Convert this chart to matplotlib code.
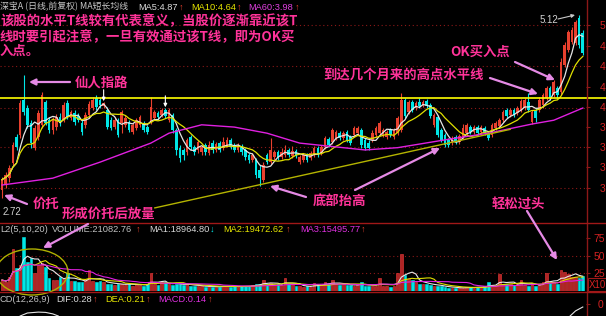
import numpy as np
import pandas as pd
import matplotlib
matplotlib.use("Agg")
import matplotlib.pyplot as plt
from matplotlib.patches import Ellipse, Rectangle

# ---------------- data (prices in cents, volume in thousands of lots) ----------------
OPEN = [283, 289, 298, 318, 352, 355, 400, 390, 370, 338,
        352, 368, 398, 374, 361, 365, 378, 374, 397, 377,
        383, 379, 370, 368, 381, 390, 403, 400, 393, 387,
        374, 365, 374, 370, 368, 372, 359, 364, 368, 370,
        365, 372, 377, 383, 381, 387, 374, 381, 361, 338,
        335, 332, 352, 339, 335, 332, 341, 331, 344, 335,
        344, 338, 341, 348, 341, 335, 340, 335, 328, 322,
        322, 309, 296, 328, 319, 326, 332, 326, 328, 335,
        327, 334, 319, 322, 328, 324, 328, 338, 331, 339,
        349, 345, 351, 357, 351, 359, 352, 355, 357, 361,
        348, 344, 348, 355, 357, 355, 352, 361, 352, 357,
        361, 400, 385, 398, 390, 398, 394, 399, 394, 368,
        378, 361, 355, 348, 344, 352, 345, 352, 357, 365,
        359, 365, 359, 364, 357, 355, 364, 366, 374, 387,
        381, 387, 383, 387, 390, 398, 372, 387, 387, 394,
        403, 416, 407, 416, 411, 446, 466, 477, 475, 508,
        488]
CLOSE = [296, 302, 311, 341, 339, 397, 385, 368, 344, 364,
         383, 407, 370, 361, 374, 378, 370, 394, 378, 385,
         372, 374, 359, 381, 395, 400, 391, 394, 397, 365,
         364, 374, 355, 385, 377, 361, 368, 374, 378, 361,
         359, 391, 385, 378, 387, 379, 387, 361, 335, 324,
         328, 348, 339, 332, 345, 339, 332, 341, 335, 343,
         335, 345, 348, 339, 335, 341, 332, 326, 322, 328,
         302, 298, 315, 319, 335, 332, 326, 332, 335, 328,
         334, 327, 326, 328, 322, 331, 338, 328, 339, 351,
         341, 361, 359, 351, 357, 348, 344, 364, 364, 341,
         338, 338, 357, 364, 370, 361, 359, 355, 361, 377,
         400, 379, 398, 387, 397, 393, 398, 393, 379, 381,
         355, 348, 341, 341, 351, 345, 353, 364, 368, 359,
         365, 357, 365, 357, 351, 368, 370, 374, 385, 379,
         387, 381, 390, 399, 400, 387, 385, 377, 400, 407,
         416, 403, 424, 407, 450, 473, 490, 492, 503, 473,
         462]
HIGH = [300, 306, 315, 345, 356, 400, 433, 394, 374, 368,
        387, 411, 400, 378, 378, 382, 383, 398, 400, 387,
        387, 383, 374, 385, 399, 404, 407, 404, 398, 391,
        378, 378, 377, 387, 381, 374, 370, 377, 381, 373,
        368, 404, 387, 386, 390, 390, 390, 383, 364, 341,
        338, 351, 355, 341, 348, 341, 344, 347, 348, 345,
        347, 352, 352, 351, 344, 344, 343, 338, 331, 331,
        324, 315, 319, 331, 351, 335, 335, 338, 341, 338,
        340, 336, 328, 331, 331, 334, 340, 340, 341, 353,
        352, 364, 361, 360, 360, 361, 355, 366, 366, 364,
        351, 348, 361, 366, 373, 364, 361, 364, 364, 379,
        410, 403, 400, 400, 399, 403, 400, 402, 397, 383,
        381, 364, 357, 351, 353, 355, 356, 369, 370, 368,
        368, 368, 368, 366, 360, 370, 373, 377, 387, 390,
        390, 390, 393, 402, 403, 410, 387, 390, 404, 410,
        419, 419, 427, 419, 456, 477, 492, 496, 505, 512,
        492]
LOW = [272, 285, 293, 314, 335, 351, 381, 364, 338, 335,
       348, 364, 368, 357, 356, 361, 366, 372, 376, 374,
       368, 372, 355, 364, 377, 387, 387, 390, 390, 362,
       361, 362, 352, 357, 365, 359, 356, 361, 365, 359,
       356, 369, 374, 376, 378, 377, 372, 357, 328, 319,
       322, 328, 335, 328, 331, 328, 328, 328, 331, 332,
       332, 335, 339, 336, 332, 332, 328, 322, 318, 319,
       298, 288, 293, 317, 317, 322, 322, 323, 326, 326,
       324, 324, 317, 319, 319, 322, 326, 326, 328, 336,
       339, 343, 348, 348, 348, 345, 341, 352, 355, 338,
       335, 335, 345, 352, 355, 352, 349, 352, 349, 355,
       359, 377, 382, 385, 387, 390, 391, 390, 377, 365,
       352, 345, 339, 339, 341, 343, 343, 349, 355, 356,
       356, 355, 356, 355, 348, 352, 361, 364, 372, 377,
       378, 378, 381, 385, 387, 385, 369, 372, 385, 390,
       400, 400, 404, 403, 407, 444, 463, 474, 473, 469,
       460]
VOLUME = [15, 12, 19, 60, 32, 36, 76, 41, 47, 25,
          36, 40, 34, 18, 15, 15, 19, 17, 25, 13,
          14, 12, 12, 16, 29, 14, 12, 13, 12, 10,
          9, 8, 10, 9, 8, 10, 7, 9, 8, 7,
          9, 25, 10, 8, 12, 12, 9, 8, 10, 9,
          8, 9, 7, 6, 7, 6, 5, 6, 5, 6,
          5, 7, 6, 5, 6, 5, 6, 7, 6, 8,
          9, 10, 15, 9, 11, 8, 9, 8, 18, 10,
          8, 7, 6, 5, 6, 5, 11, 8, 8, 12,
          9, 15, 9, 8, 9, 8, 8, 7, 8, 12,
          7, 6, 6, 7, 18, 7, 6, 5, 7, 25,
          52, 22, 17, 15, 12, 10, 9, 10, 8, 7,
          6, 6, 5, 4, 4, 4, 3, 4, 5, 5,
          4, 5, 5, 6, 12, 8, 7, 23, 10, 9,
          10, 8, 9, 15, 8, 7, 9, 7, 8, 12,
          25, 11, 12, 10, 29, 27, 23, 20, 20, 18,
          21]
MA60_IDX = [0, 14, 27, 41, 46, 55, 64, 73, 82, 94, 100, 109, 123, 134, 146, 152, 160]
MA60_VAL = [289, 298, 319, 344, 357, 368, 365, 357, 344, 338, 335, 338, 349, 357, 369, 374, 390]
T_LINE = 4.03                      # horizontal "T" line
TREND_IDX = [42.1, 140.0]          # rising bottom line
TREND_VAL = [2.59, 3.62]
MARK_IDX = [28, 45]                # small white markers above highs
PRICE_TICKS = [4.99, 4.71, 4.45, 4.18, 3.91, 3.65, 3.39, 3.13, 2.85]
PRICE_TICK_LABELS = ['5', '4', '4', '4', '4', '3', '3', '3', '3']
PRICE_GRID = [4.99, 4.45, 3.90, 3.39, 2.85]
VOL_TICKS = [75, 50, 25]
VOL_TICK_LABELS = ['75', '50', '25']
VOL_GRID = [50, 25]
MACD_L_IDX = [5, 7, 10, 12, 14, 15.5]
MACD_L_VAL = [-0.02, 0.08, 0.11, 0.10, 0.05, -0.02]
MACD_R_IDX = [156.5, 158, 160]
MACD_R_VAL = [-0.02, 0.15, 0.28]

# ---------------- setup ----------------
plt.rcParams['font.family'] = ['Liberation Sans', 'Noto Sans CJK SC', 'DejaVu Sans']
CJK = ['Noto Sans CJK SC', 'DejaVu Sans']
W, H = 606, 316
AXR = 586
RED = '#E8402E'
CYAN = '#00E6E6'
DARKRED = '#8C1818'
TICKRED = '#D42222'
PINK = '#FF3399'
ARROW = '#E58AE5'

fig = plt.figure(figsize=(W / 100, H / 100), dpi=100, facecolor='black')


def fbox(x0, y0, x1, y1):
    return [x0 / W, 1 - y1 / H, (x1 - x0) / W, (y1 - y0) / H]


o = np.array(OPEN) / 100
c = np.array(CLOSE) / 100
h = np.array(HIGH) / 100
lo = np.array(LOW) / 100
vol = np.array(VOLUME, dtype=float)
n = len(c)
x = np.arange(n)
XLIM = (-0.551, 160.88)
up = c >= o
cols = np.where(up, RED, CYAN)

# ---------------- price panel ----------------
ax_p = fig.add_axes(fbox(0, 0, AXR, 222))
ax_p.set_facecolor('black')
ax_p.set_xlim(*XLIM)
ax_p.set_ylim(2.405, 5.317)
for v in PRICE_GRID:
    ax_p.axhline(v, color=DARKRED, lw=0.8, ls=(0, (1, 2.5)), zorder=1)
ax_p.vlines(x, lo, h, colors=cols, lw=0.8, zorder=2)
ax_p.bar(x, np.maximum(np.abs(c - o), 0.008), bottom=np.minimum(o, c), width=0.72,
         color=cols, lw=0, zorder=3)
ma5 = pd.Series(c).rolling(5, min_periods=1).mean()
ma10 = pd.Series(c).rolling(10, min_periods=1).mean()
ax_p.plot(x, ma5, color='#E6E6E6', lw=0.9, zorder=4)
ax_p.plot(x, ma10, color='#E0E000', lw=0.9, zorder=4)
ax_p.plot(MA60_IDX, np.array(MA60_VAL) / 100, color='#E020E0', lw=1.0, zorder=4)
ax_p.axhline(T_LINE, xmin=0, xmax=W / AXR, color='#FFFF00', lw=1.2, zorder=5, clip_on=False)
ax_p.plot(TREND_IDX, TREND_VAL, color='#B4B400', lw=1.0, zorder=5)
for i in MARK_IDX:
    ax_p.annotate('', xy=(i, h[i] + 0.01), xytext=(i, h[i] + 0.16),
                  arrowprops=dict(arrowstyle='-|>', color='white', lw=0.8,
                                  mutation_scale=5, shrinkA=0, shrinkB=0), zorder=6)
ax_p.set_xticks([])
ax_p.yaxis.tick_right()
ax_p.set_yticks(PRICE_TICKS)
ax_p.set_yticklabels(PRICE_TICK_LABELS)
ax_p.tick_params(axis='y', colors=DARKRED, labelcolor=TICKRED, length=2.9, width=0.8,
                 pad=7.2, labelsize=7.5)
for s in ax_p.spines.values():
    s.set_visible(False)

# ---------------- volume panel ----------------
ax_v = fig.add_axes(fbox(0, 223, AXR, 290.5))
ax_v.set_facecolor('black')
ax_v.set_xlim(*XLIM)
ax_v.set_ylim(0, 96.43)
for v in VOL_GRID:
    ax_v.axhline(v, color=DARKRED, lw=0.8, ls=(0, (1, 2.5)), zorder=1)
vface = np.where(up, '#B02424', CYAN)
vedge = np.where(up, '#F03C3C', CYAN)
ax_v.bar(x, vol, width=0.72, color=vface, edgecolor=vedge, lw=0.4, zorder=2)
vs = pd.Series(vol)
ax_v.plot(x, vs.rolling(5, min_periods=1).mean(), color='#E6E6E6', lw=0.8, zorder=3)
ax_v.plot(x, vs.rolling(10, min_periods=1).mean(), color='#E0E000', lw=0.8, zorder=3)
ax_v.plot(x, vs.rolling(20, min_periods=1).mean(), color='#E020E0', lw=0.8, zorder=3)
ax_v.set_xticks([])
ax_v.yaxis.tick_right()
ax_v.set_yticks(VOL_TICKS)
ax_v.set_yticklabels(VOL_TICK_LABELS)
ax_v.tick_params(axis='y', colors=DARKRED, labelcolor=TICKRED, length=2.9, width=0.8,
                 pad=2.2, labelsize=7.5)
for s in ax_v.spines.values():
    s.set_visible(False)

# ---------------- MACD panel ----------------
ax_m = fig.add_axes(fbox(0, 292, AXR, 316))
ax_m.set_facecolor('black')
ax_m.set_xlim(*XLIM)
ax_m.set_ylim(-0.02, 0.78)
ax_m.plot(MACD_L_IDX, MACD_L_VAL, color='#E6E6E6', lw=0.8)
ax_m.plot(MACD_R_IDX, MACD_R_VAL, color='#E6E6E6', lw=0.8)
ax_m.set_xticks([])
ax_m.yaxis.tick_right()
ax_m.set_yticks([0.38])
ax_m.set_yticklabels(['0'])
ax_m.tick_params(axis='y', colors=DARKRED, labelcolor=TICKRED, length=2.9, width=0.8,
                 pad=5.8, labelsize=7.5)
for s in ax_m.spines.values():
    s.set_visible(False)

# ---------------- overlay (pixel coordinates) ----------------
ov = fig.add_axes([0, 0, 1, 1])
ov.set_xlim(0, W)
ov.set_ylim(H, 0)
ov.axis('off')
ov.patch.set_alpha(0)

ov.axvline(AXR + 0.5, color=DARKRED, lw=1.0)
ov.axhline(222.5, color='#A01818', lw=1.0)
ov.axhline(291.5, color='#A01818', lw=1.0)
ov.add_patch(Rectangle((587.5, 278), 19, 13, fill=False, edgecolor='#A01818', lw=0.8))
ov.text(589, 285, 'X10', color=TICKRED, fontsize=7, va='center', ha='left')


def txt(px, py, s, color, size=6.7, family=None, weight='normal'):
    kw = {}
    if family:
        kw['family'] = family
    ov.text(px, py, s, color=color, fontsize=size, va='center', ha='left',
            fontweight=weight, **kw)


def arrow(x0, y0, x1, y1, color=ARROW, lw=1.6, ms=9):
    ov.annotate('', xy=(x1, y1), xytext=(x0, y0),
                arrowprops=dict(arrowstyle='-|>', color=color, lw=lw,
                                mutation_scale=ms, shrinkA=0, shrinkB=0))


# title row
txt(0, 7, '深宝A (日线,前复权) MA短长均线', '#C8C8C8', size=6.4, family=CJK)
txt(138, 7, 'MA5:4.87', '#DCDCDC')
txt(179, 7, '↑', RED)
txt(191, 7, 'MA10:4.64', '#E6E600')
txt(237, 7, '↑', RED)
txt(248, 7, 'MA60:3.98', '#E040E0')
txt(295, 7, '↑', RED)

# volume title
txt(0, 229, 'L2(5,10,20)', '#C0C0C0')
txt(52, 229, 'VOLUME:21082.76', '#C0C0C0')
txt(136, 229, '↑', RED)
txt(149, 229, 'MA1:18964.80', '#D8D8D8')
txt(210, 229, '↓', CYAN)
txt(223, 229, 'MA2:19472.62', '#E6E600')
txt(286, 229, '↑', RED)
txt(300, 229, 'MA3:15495.77', '#E030E0')
txt(361, 229, '↑', RED)

# MACD title
txt(0, 299, 'CD(12,26,9)', '#C0C0C0')
txt(56, 299, 'DIF:0.28', '#D8D8D8')
txt(93, 299, '↑', RED)
txt(105, 299, 'DEA:0.21', '#E6E600')
txt(146, 299, '↑', RED)
txt(158, 299, 'MACD:0.14', '#E030E0')
txt(208, 299, '↑', RED)

# high / low labels
txt(540, 20, '5.12', '#D0D0D0', size=7)
arrow(558, 19, 575, 15, color='#C8C8C8', lw=0.8, ms=5)
txt(3, 212, '2.72', '#D0D0D0', size=7)

# commentary
FS = 9.6
txt(0, 21, '该股的水平T线较有代表意义，当股价逐渐靠近该T', PINK, FS, CJK, 'bold')
txt(0, 37, '线时要引起注意，一旦有效通过该T线，即为OK买', PINK, FS, CJK, 'bold')
txt(0, 51, '入点。', PINK, FS, CJK, 'bold')
txt(75, 83, '仙人指路', PINK, FS, CJK, 'bold')
arrow(70, 82, 29, 82)
txt(33, 204, '价托', PINK, FS, CJK, 'bold')
arrow(27, 204, 4, 195)
txt(62, 214, '形成价托后放量', PINK, FS, CJK, 'bold')
arrow(88, 224, 43, 248)
txt(313, 201, '底部抬高', PINK, FS, CJK, 'bold')
arrow(306, 197, 270, 186)
arrow(355, 190, 440, 148)
txt(323, 75, '到达几个月来的高点水平线', PINK, FS, CJK, 'bold')
arrow(490, 78, 538, 94)
txt(450, 52, 'OK买入点', PINK, FS, CJK, 'bold')
arrow(515, 62, 555, 80)
txt(492, 204, '轻松过头', PINK, FS, CJK, 'bold')
arrow(527, 211, 557, 260)

ov.add_patch(Ellipse((32, 272), 72, 46, fill=False, edgecolor='#B0B000', lw=1.0))

fig.savefig('out.png', dpi=100, facecolor='black')
